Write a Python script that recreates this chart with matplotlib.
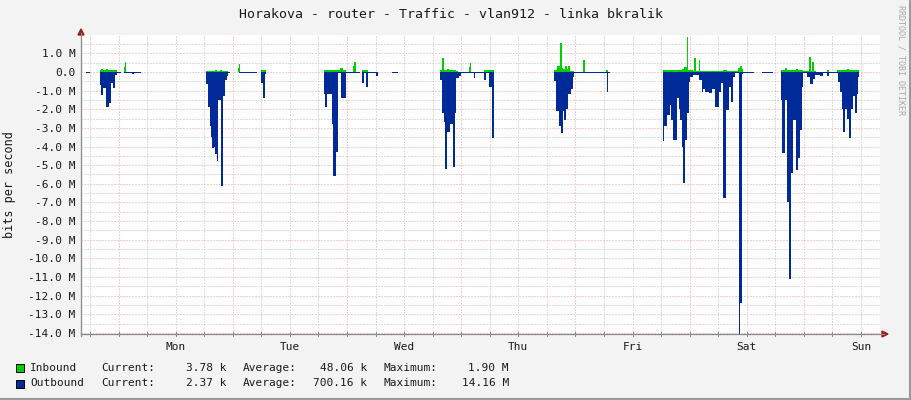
import numpy as np
import matplotlib
matplotlib.use('Agg')
import matplotlib.pyplot as plt
from matplotlib.patches import Rectangle, Polygon
from matplotlib.lines import Line2D

# hours since Monday 00:00 -> Mbit/s, each value holds until the next breakpoint
in_steps = [
    (-7.9, 0.0),
    (-3.9, 0.10), (-3.6, 0.15), (-3.3, 0.08), (-2.6, 0.14), (-2.2, 0.08), (-0.4, 0.02), (-0.2, 0.0),
    (1.2, 0.25), (1.35, 0.52), (1.6, 0.0),
    (18.4, 0.07), (20.3, 0.10), (20.8, 0.07), (21.4, 0.10), (21.8, 0.07), (23.0, 0.02), (23.4, 0.0),
    (25.2, 0.20), (25.35, 0.43), (25.6, 0.0), (29.9, 0.10), (30.9, 0.0),
    (43.2, 0.10), (46.6, 0.23), (47.2, 0.12), (47.8, 0.0), (49.3, 0.30), (49.5, 0.55), (49.8, 0.0),
    (51.1, 0.08), (52.5, 0.0),
    (67.6, 0.10), (68.0, 0.77), (68.3, 0.10), (69.0, 0.15), (69.4, 0.10), (71.0, 0.05), (71.3, 0.0),
    (73.7, 0.25), (73.9, 0.50), (74.1, 0.0), (76.7, 0.10), (79.0, 0.0),
    (91.6, 0.10), (92.2, 0.30), (92.85, 1.55), (93.2, 0.20), (93.4, 0.15), (93.9, 0.30), (94.2, 0.15),
    (94.5, 0.33), (94.8, 0.05), (95.7, 0.0), (97.7, 0.66), (98.0, 0.0), (102.4, 0.08), (102.9, 0.0),
    (114.4, 0.10), (114.7, 0.13), (115.2, 0.08), (117.0, 0.12), (117.5, 0.08), (118.4, 0.15),
    (118.9, 0.25), (119.35, 1.90), (119.75, 0.10), (120.8, 0.06), (121.0, 0.73), (121.3, 0.06),
    (121.9, 0.64), (122.2, 0.06), (122.6, 0.03), (127.1, 0.10), (127.8, 0.05), (130.1, 0.20),
    (130.5, 0.32), (130.9, 0.15), (131.3, 0.0),
    (139.1, 0.10), (140.1, 0.23), (140.5, 0.10), (142.3, 0.15), (142.7, 0.10), (143.9, 0.03),
    (145.0, 0.82), (145.4, 0.05), (145.8, 0.52), (146.2, 0.05), (146.5, 0.0), (148.8, 0.10),
    (149.2, 0.0), (150.9, 0.08), (153.0, 0.15), (153.5, 0.10), (155.6, 0.0),
]

out_steps = [
    (-7.9, 0.0), (-6.8, 0.03), (-6.0, 0.0),
    (-3.9, 0.70), (-3.7, 1.23), (-3.3, 0.87), (-2.7, 1.90), (-2.0, 1.66), (-1.6, 0.60), (-1.1, 0.84),
    (-0.7, 0.15), (-0.4, 0.03), (0.6, 0.0), (1.2, 0.06), (1.6, 0.03), (2.9, 0.12), (3.3, 0.03),
    (4.4, 0.06), (4.8, 0.0),
    (18.4, 0.66), (18.8, 1.90), (19.2, 2.90), (19.4, 3.50), (19.7, 4.10), (20.0, 4.00), (20.3, 4.40),
    (20.6, 4.80), (21.0, 1.50), (21.6, 6.10), (22.0, 1.30), (22.4, 0.45), (22.7, 0.20), (23.0, 0.03),
    (23.4, 0.0), (25.3, 0.04), (29.2, 0.0), (30.0, 0.60), (30.4, 1.40), (30.8, 0.10), (31.0, 0.0),
    (43.2, 1.20), (43.4, 1.90), (43.9, 1.20), (44.8, 2.80), (45.1, 5.60), (45.6, 4.30), (46.1, 0.08),
    (46.8, 1.40), (47.8, 0.04), (50.8, 0.0), (51.1, 0.60), (51.6, 0.03), (52.0, 0.82), (52.5, 0.03),
    (54.1, 0.20), (54.6, 0.0), (57.5, 0.03), (58.7, 0.0),
    (67.6, 0.43), (67.9, 2.20), (68.3, 2.70), (68.6, 5.20), (69.0, 3.20), (69.6, 2.80), (70.2, 5.10),
    (70.6, 2.20), (71.0, 0.30), (71.6, 0.20), (72.0, 0.03), (74.6, 0.30), (74.9, 0.03), (76.9, 0.43),
    (77.2, 0.03), (77.9, 0.80), (78.5, 3.55), (78.9, 0.03), (79.0, 0.0),
    (91.6, 0.50), (91.9, 2.10), (92.6, 2.90), (92.9, 3.30), (93.4, 2.10), (93.6, 2.60), (94.1, 2.00),
    (94.5, 1.20), (95.0, 0.90), (95.4, 0.25), (95.7, 0.03), (102.6, 1.05), (102.9, 0.03), (103.3, 0.0),
    (114.4, 3.73), (114.7, 2.92), (115.2, 2.30), (115.9, 1.76), (116.1, 2.57), (116.6, 3.64),
    (117.3, 1.40), (117.7, 2.00), (118.0, 2.57), (118.4, 4.00), (118.6, 5.95), (119.0, 3.64),
    (119.4, 2.20), (119.8, 0.52), (120.1, 0.25), (120.8, 0.16), (121.9, 0.43), (122.6, 1.05),
    (122.9, 0.90), (123.3, 1.05), (124.0, 1.14), (124.7, 0.90), (125.4, 1.89), (126.2, 1.05),
    (126.6, 0.60), (127.1, 6.75), (127.6, 2.03), (128.3, 0.78), (128.7, 1.59), (129.1, 0.25),
    (129.6, 0.07), (130.3, 14.16), (130.6, 12.40), (131.1, 0.10), (131.3, 0.03), (133.5, 0.0),
    (135.2, 0.04), (137.6, 0.0),
    (139.1, 1.50), (139.5, 4.35), (140.1, 1.50), (140.5, 7.00), (140.9, 11.10), (141.3, 5.40),
    (141.8, 2.60), (142.3, 5.24), (142.7, 4.60), (143.2, 3.10), (143.7, 0.80), (143.9, 0.05),
    (144.6, 0.25), (145.3, 0.66), (146.0, 0.35), (146.4, 0.15), (147.4, 0.20), (148.0, 0.05),
    (148.8, 0.20), (149.2, 0.03), (151.2, 0.52), (151.6, 1.05), (152.0, 2.00), (152.3, 3.20),
    (152.7, 2.00), (153.0, 2.50), (153.5, 3.55), (154.0, 2.00), (154.3, 1.30), (154.8, 2.20),
    (155.1, 1.20), (155.4, 0.25), (155.6, 0.0),
]

days = ['Mon', 'Tue', 'Wed', 'Thu', 'Fri', 'Sat', 'Sun']
day_noon = [12, 36, 60, 84, 108, 132, 156]
y_ticks = list(range(1, -15, -1))

legend_names = ['Inbound', 'Outbound']
legend_colors = ['#00CF00', '#002A97']
cur_vals = ['3.78 k', '2.37 k']
avg_vals = ['48.06 k', '700.16 k']
max_vals = ['1.90 M', '14.16 M']

title = 'Horakova - router - Traffic - vlan912 - linka bkralik'

# ---------------------------------------------------------------
W, H = 911, 400
MONO = 'DejaVu Sans Mono'
TXT = '#1a1a1a'

def fx(x): return x / W
def fy(y): return 1 - y / H

fig = plt.figure(figsize=(W / 100, H / 100), dpi=100, facecolor='#F3F3F3')

left, right, top, bottom = 81, 880, 35, 334
ax = fig.add_axes([fx(left), fy(bottom), (right - left) / W, (bottom - top) / H])
ax.set_facecolor('white')
ax.set_xlim(-7.88, 160.0)
ax.set_ylim(-14.06, 1.985)
for s in ax.spines.values():
    s.set_visible(False)

# grid: 6h minor, 24h major, 0.5M minor, 1M major
dots = (0, (1, 2))
for h in np.arange(-6, 161, 6):
    major = (h % 24 == 0)
    ax.axvline(h, color='#EE9E9E' if major else '#BDBDBD', lw=0.72, ls=dots, zorder=0)
for v in np.arange(-14, 2, 0.5):
    major = float(v).is_integer()
    ax.axhline(v, color='#EE9E9E' if major else '#BDBDBD', lw=0.72, ls=dots, zorder=0)

ih, iv = np.array(in_steps).T
oh, ov = np.array(out_steps).T
ax.fill_between(ih, iv, 0, step='post', color=legend_colors[0], lw=0, zorder=2)
ax.fill_between(oh, -ov, 0, step='post', color=legend_colors[1], lw=0, zorder=2)

ax.set_xticks(day_noon)
ax.set_xticklabels(days, fontfamily=MONO, fontsize=8, color=TXT)
ax.set_yticks(y_ticks)
ax.set_yticklabels(['0.0' if t == 0 else f'{t:.1f} M' for t in y_ticks],
                   fontfamily=MONO, fontsize=8, color=TXT)
ax.tick_params(axis='y', length=0, pad=4)
ax.tick_params(axis='x', length=0, pad=6)

# axes lines with arrows
axis_c = '#8A8A8A'
arrow_c = '#9B1C1C'
fig.add_artist(Line2D([fx(left), fx(884)], [fy(bottom), fy(bottom)], color=axis_c, lw=0.9))
fig.add_artist(Line2D([fx(left), fx(left)], [fy(bottom + 2), fy(33)], color=axis_c, lw=0.9))
fig.add_artist(Polygon([[fx(888), fy(bottom)], [fx(882), fy(bottom - 3)], [fx(882), fy(bottom + 3)]],
                       closed=True, color=arrow_c, transform=fig.transFigure))
fig.add_artist(Polygon([[fx(left), fy(29)], [fx(left - 3), fy(35)], [fx(left + 3), fy(35)]],
                       closed=True, color=arrow_c, transform=fig.transFigure))
for h in np.arange(-6, 161, 6):
    xp = left + (h + 7.88) / (160.0 + 7.88) * (right - left)
    fig.add_artist(Line2D([fx(xp), fx(xp)], [fy(bottom - 2), fy(bottom + 2)], color=axis_c, lw=0.7))

# texts
fig.text(fx(451), fy(14), title, ha='center', va='center', fontfamily=MONO, fontsize=9.5, color=TXT)
fig.text(fx(10), fy(185), 'bits per second', rotation=90, ha='center', va='center',
         fontfamily=MONO, fontsize=8.5, color=TXT)
fig.text(fx(901), fy(5), 'RRDTOOL / TOBI OETIKER', rotation=270, ha='center', va='top',
         fontfamily=MONO, fontsize=6, color='#A8A8A8')

# legend
for i, name in enumerate(legend_names):
    y = 368 + i * 15.5
    fig.add_artist(Rectangle((fx(16), fy(y + 4)), 8 / W, 8 / H, transform=fig.transFigure,
                             facecolor=legend_colors[i], edgecolor='black', lw=0.7))
    kw = dict(va='center', fontfamily=MONO, fontsize=8, color=TXT)
    fig.text(fx(30), fy(y), name, ha='left', **kw)
    fig.text(fx(101), fy(y), 'Current:', ha='left', **kw)
    fig.text(fx(226), fy(y), cur_vals[i], ha='right', **kw)
    fig.text(fx(243), fy(y), 'Average:', ha='left', **kw)
    fig.text(fx(367), fy(y), avg_vals[i], ha='right', **kw)
    fig.text(fx(383), fy(y), 'Maximum:', ha='left', **kw)
    fig.text(fx(509), fy(y), max_vals[i], ha='right', **kw)

# canvas border
fig.add_artist(Line2D([fx(909.5), fx(909.5)], [fy(0), fy(400)], color='#9A9A9A', lw=1.5))
fig.add_artist(Line2D([fx(0), fx(911)], [fy(398.5), fy(398.5)], color='#9A9A9A', lw=1.5))

fig.savefig('out.png', dpi=100, facecolor=fig.get_facecolor())
